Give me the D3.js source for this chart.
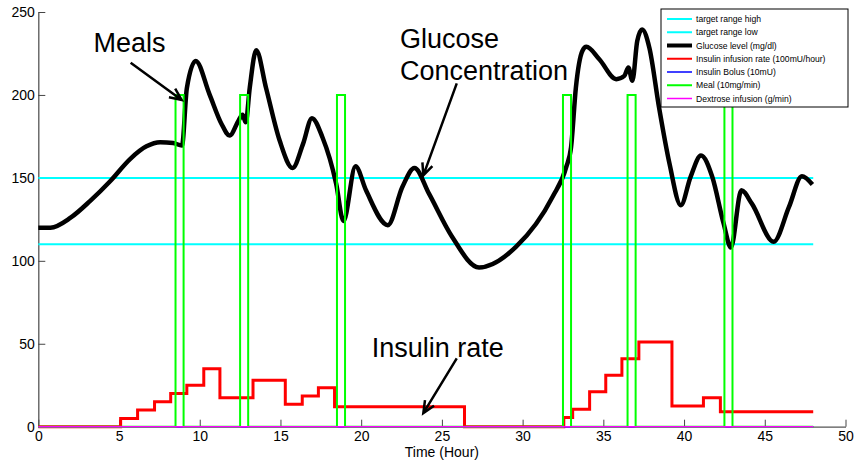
<!DOCTYPE html>
<html>
<head>
<meta charset="utf-8">
<script src="https://cdn.jsdelivr.net/npm/d3@7"></script>
<style>
body { margin: 0; background: #fff; }
svg { display: block; font-family: "Liberation Sans", Arial, Helvetica, sans-serif; }
</style>
</head>
<body>
<svg id="vis-svg" width="854" height="463"></svg>
<script>

// Values (time in hours)
var glucoseHours  = [0, 0.75, 2.0, 3.2, 4.45, 5.7, 6.7, 7.55, 8.35, 8.9, 9.2, 9.75, 10.6, 11.35, 11.85, 12.4, 12.65, 12.85, 13.1, 13.5, 14.1, 14.95, 15.75, 16.4, 16.95, 17.6, 18.45, 18.9, 19.65, 20.3, 21.65, 22.55, 23.3, 24.2, 25.6, 27.3, 29.6, 31.85, 32.7, 33.0, 33.3, 33.7, 33.95, 34.75, 35.8, 36.3, 36.55, 36.8, 37.1, 37.4, 37.85, 38.45, 39.1, 39.8, 40.4, 41.05, 41.75, 42.45, 42.9, 43.55, 44.2, 45.55, 46.5, 47.3, 47.95];
var glucoseValues = [120, 120, 126, 136, 148, 161.5, 169, 171.5, 171, 169.5, 204, 220.5, 200.5, 182.5, 175.5, 184.5, 188, 183.5, 204.5, 227, 204.5, 172.5, 156, 170.5, 186, 174.5, 146.5, 124, 157, 142.5, 121.5, 144.5, 156, 140.5, 115, 96, 108.5, 138.5, 156.5, 168.5, 204.5, 226.5, 229, 221.5, 209.5, 211.5, 216.5, 208.5, 232.5, 239.5, 228.5, 192.5, 158.5, 133.5, 150.5, 163.5, 150.5, 122.5, 108, 142.5, 134.5, 111.5, 132.5, 151, 146];

var insulinHours = [0, 5.1, 6.15, 7.2, 8.2, 9.2, 10.25, 11.25, 13.3, 15.3, 16.35, 17.35, 18.35, 26.4, 32.55, 33.1, 34.15, 35.15, 36.15, 37.2, 39.25, 41.2, 42.25, 48];
var insulinRates = [0, 5, 10, 15, 20, 25, 35, 17.5, 28, 13.5, 18.5, 23.5, 12, 0, 5.5, 10.5, 21, 31, 41, 51, 12.5, 17.5, 9, 9];

var mealStarts = [8.5, 12.5, 18.5, 32.5, 36.5, 42.5];
var mealEnds   = [9, 13, 19, 33, 37, 43];
var mealRate   = 200;

var targetHigh = 150;
var targetLow  = 110;
var simEnd     = 48;

var xTicks = [0, 5, 10, 15, 20, 25, 30, 35, 40, 45, 50];
var yTicks = [0, 50, 100, 150, 200, 250];

var legendLabels = ['target range high', 'target range low', 'Glucose level (mg/dl)', 'Insulin infusion rate (100mU/hour)', 'Insulin Bolus (10mU)', 'Meal (10mg/min)', 'Dextrose infusion (g/min)'];

var svg = d3.select('#vis-svg');

// Scales
var x = d3.scaleLinear().domain([0, 50]).range([38.3, 845.5]);
var y = d3.scaleLinear().domain([0, 250]).range([426.7, 12]);

// X Axis
var xAxis = svg.append('g')
  .attr('transform', 'translate(0,' + y(0) + ')')
  .call(d3.axisBottom(x).tickValues(xTicks).tickSizeInner(-7).tickSizeOuter(0).tickPadding(4));

// Y Axis
var yAxis = svg.append('g')
  .attr('transform', 'translate(' + x(0) + ',0)')
  .call(d3.axisLeft(y).tickValues(yTicks).tickSizeInner(-7).tickSizeOuter(0).tickPadding(3.5));

[xAxis, yAxis].forEach(function(g){
  g.attr('font-family', null).attr('font-size', null);
  g.select('.domain').attr('stroke', '#555').attr('stroke-width', 1.3);
  g.selectAll('.tick line').attr('stroke', '#444').attr('stroke-width', 1);
  g.selectAll('.tick text').attr('fill', '#000').style('font-size', '14px');
});

// X Axis Label
svg.append('text')
  .attr('x', (x(0) + x(50)) / 2)
  .attr('y', 457)
  .attr('text-anchor', 'middle')
  .style('font-size', '14px')
  .text('Time (Hour)');

var line = d3.line()
  .x(function(d){ return x(d[0]); })
  .y(function(d){ return y(d[1]); });

// Target range
[targetHigh, targetLow].forEach(function(v){
  svg.append('path')
    .attr('d', line([[0, v], [simEnd, v]]))
    .attr('fill', 'none')
    .attr('stroke', '#00ffff')
    .attr('stroke-width', 2);
});

// Glucose
var glucose = glucoseHours.map(function(h, i){ return [h, glucoseValues[i]]; });
svg.append('path')
  .attr('d', line.curve(d3.curveMonotoneX)(glucose))
  .attr('fill', 'none')
  .attr('stroke', '#000')
  .attr('stroke-width', 4.5)
  .attr('stroke-linejoin', 'round');
line.curve(d3.curveLinear);

// Insulin infusion
var insulin = insulinHours.map(function(h, i){ return [h, insulinRates[i]]; });
svg.append('path')
  .attr('d', d3.line().curve(d3.curveStepAfter)
    .x(function(d){ return x(d[0]); })
    .y(function(d){ return y(d[1]); })(insulin))
  .attr('fill', 'none')
  .attr('stroke', '#ff0000')
  .attr('stroke-width', 3);

// Insulin bolus (none given)
svg.append('path')
  .attr('d', line([[0, 0], [simEnd, 0]]))
  .attr('fill', 'none')
  .attr('stroke', '#0000ff')
  .attr('stroke-width', 1.5);

// Meals
var meal = [[0, 0]];
mealStarts.forEach(function(s, i){
  meal.push([s, 0], [s, mealRate], [mealEnds[i], mealRate], [mealEnds[i], 0]);
});
meal.push([simEnd, 0]);
svg.append('path')
  .attr('d', line(meal))
  .attr('fill', 'none')
  .attr('stroke', '#00ff00')
  .attr('stroke-width', 2);

// Dextrose (none given)
svg.append('path')
  .attr('d', line([[0, 0], [simEnd, 0]]))
  .attr('fill', 'none')
  .attr('stroke', '#ff00ff')
  .attr('stroke-width', 1.5);

// Legend
var legendColors = ['#00ffff', '#00ffff', '#000', '#ff0000', '#0000ff', '#00ff00', '#ff00ff'];
var legendWidths = [2, 2, 4, 2, 1.5, 2, 1.5];
var legend = svg.append('g');
legend.append('rect')
  .attr('x', 661).attr('y', 9)
  .attr('width', 187).attr('height', 98)
  .attr('fill', '#fff')
  .attr('stroke', '#000')
  .attr('stroke-width', 1);
legendLabels.forEach(function(lab, i){
  var ly = 19 + i * 13.25;
  legend.append('line')
    .attr('x1', 667).attr('x2', 692)
    .attr('y1', ly).attr('y2', ly)
    .attr('stroke', legendColors[i])
    .attr('stroke-width', legendWidths[i]);
  legend.append('text')
    .attr('x', 696).attr('y', ly)
    .attr('dy', '0.35em')
    .style('font-size', '8.6px')
    .text(lab);
});

// Annotations (positions in hours / chart units)
var notes = [
  { lines: ['Meals'], tx: 3.42, ty: 226, from: [5.72, 219.4], to: [8.88, 197] },
  { lines: ['Glucose', 'Concentration'], tx: 22.4, ty: 228, from: [25.92, 207], to: [23.85, 151.5] },
  { lines: ['Insulin rate'], tx: 20.65, ty: 42.2, from: [25.92, 41.2], to: [23.85, 8.2] }
];
notes.forEach(function(n){
  n.lines.forEach(function(t, i){
    svg.append('text')
      .attr('x', x(n.tx))
      .attr('y', y(n.ty) + i * 31.7)
      .style('font-size', '27px')
      .text(t);
  });
  var x1 = x(n.from[0]), y1 = y(n.from[1]), x2 = x(n.to[0]), y2 = y(n.to[1]);
  var a = Math.atan2(y2 - y1, x2 - x1);
  var hl = 13, ha = 0.42;
  var p = d3.path();
  p.moveTo(x1, y1); p.lineTo(x2, y2);
  p.moveTo(x2 - hl * Math.cos(a - ha), y2 - hl * Math.sin(a - ha));
  p.lineTo(x2, y2);
  p.lineTo(x2 - hl * Math.cos(a + ha), y2 - hl * Math.sin(a + ha));
  svg.append('path')
    .attr('d', p.toString())
    .attr('fill', 'none')
    .attr('stroke', '#000')
    .attr('stroke-width', 2.5);
});

</script>
</body>
</html>
